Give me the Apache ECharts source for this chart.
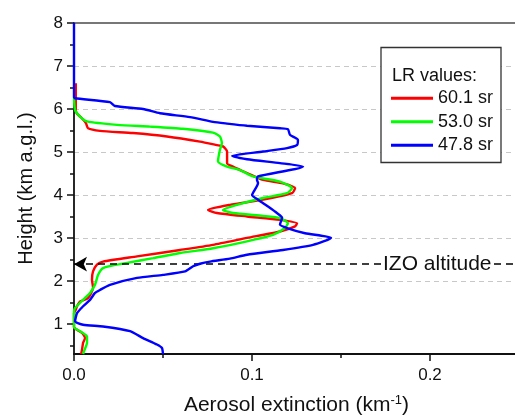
<!DOCTYPE html>
<html>
<head>
<meta charset="utf-8">
<script src="https://cdn.jsdelivr.net/npm/echarts@6/dist/echarts.min.js"></script>
<style>
html,body{margin:0;padding:0;background:#fff;}
#chart{width:515px;height:417px;}
</style>
</head>
<body>
<div id="chart"></div>
<script>
// ---- data (extinction in km^-1, height in km a.g.l.) ----
const seriesNames = ['60.1 sr', '53.0 sr', '47.8 sr'];
const seriesColors = ['#ff0000', '#00ff00', '#0000ff'];

const redHeight = [6.6, 5.98, 5.90, 5.79, 5.67, 5.55, 5.49, 5.44, 5.36, 5.24, 5.16, 5.13, 5.01, 4.74, 4.66, 4.51, 4.35, 4.27, 4.16, 4.04, 3.89, 3.77, 3.65, 3.58, 3.50, 3.42, 3.34, 3.27, 3.15, 3.0, 2.84, 2.72, 2.57, 2.45, 2.38, 2.22, 2.03, 1.84, 1.60, 1.52, 1.41, 1.33, 1.25, 0.92, 0.88, 0.79, 0.67, 0.56, 0.40, 0.30];
const redExt = [0.001, 0.001, 0.0015, 0.0043, 0.0067, 0.0079, 0.0146, 0.0331, 0.0522, 0.0708, 0.0803, 0.0837, 0.086, 0.086, 0.0893, 0.0972, 0.1062, 0.1174, 0.1242, 0.1225, 0.1062, 0.0876, 0.0753, 0.0803, 0.0972, 0.1157, 0.1253, 0.1242, 0.1157, 0.0972, 0.0781, 0.0596, 0.0354, 0.0163, 0.0129, 0.0107, 0.0101, 0.0107, 0.0079, 0.0034, 0.0017, 0.001, 0.0, 0.0, 0.001, 0.0045, 0.0062, 0.0051, 0.0045, 0.004];

const greenHeight = [6.28, 5.98, 5.82, 5.71, 5.63, 5.59, 5.54, 5.45, 5.36, 5.20, 5.05, 4.78, 4.66, 4.58, 4.43, 4.31, 4.16, 4.04, 3.93, 3.77, 3.65, 3.58, 3.51, 3.46, 3.34, 3.23, 3.07, 2.92, 2.76, 2.65, 2.53, 2.42, 2.30, 2.14, 1.91, 1.72, 1.56, 1.37, 1.29, 0.92, 0.83, 0.71, 0.56, 0.36, 0.30];
const greenExt = [0.0, 0.0006, 0.0034, 0.0073, 0.0242, 0.0427, 0.0612, 0.0781, 0.082, 0.0831, 0.082, 0.0809, 0.086, 0.0933, 0.1006, 0.1157, 0.1225, 0.1197, 0.1062, 0.0916, 0.0837, 0.0893, 0.1062, 0.1157, 0.1202, 0.1185, 0.1118, 0.0972, 0.0781, 0.0596, 0.0444, 0.0298, 0.0163, 0.0135, 0.0118, 0.009, 0.0051, 0.0006, 0.0, 0.0, 0.0034, 0.0073, 0.0073, 0.0056, 0.0051];

const blueHeight = [8.0, 6.28, 6.25, 6.16, 6.07, 6.0, 5.9, 5.81, 5.70, 5.66, 5.61, 5.55, 5.53, 5.40, 5.28, 5.16, 5.09, 5.01, 4.91, 4.83, 4.74, 4.66, 4.43, 4.35, 4.28, 4.05, 4.0, 3.89, 3.73, 3.58, 3.47, 3.31, 3.23, 3.11, 3.0, 2.84, 2.72, 2.61, 2.52, 2.45, 2.40, 2.34, 2.22, 2.14, 2.07, 1.91, 1.79, 1.72, 1.56, 1.41, 1.25, 1.06, 0.98, 0.94, 0.83, 0.67, 0.52, 0.44, 0.30];
const blueExt = [0.0, 0.0, 0.0006, 0.0202, 0.023, 0.0388, 0.0483, 0.0652, 0.0781, 0.086, 0.0972, 0.1157, 0.1202, 0.1213, 0.1258, 0.1253, 0.1197, 0.1062, 0.0888, 0.0972, 0.1157, 0.1287, 0.1034, 0.1028, 0.1034, 0.1006, 0.1, 0.1034, 0.109, 0.114, 0.1169, 0.1157, 0.1197, 0.1298, 0.1444, 0.1343, 0.1174, 0.0972, 0.0876, 0.0764, 0.0708, 0.0669, 0.0624, 0.05, 0.0354, 0.0202, 0.0146, 0.0118, 0.009, 0.0051, 0.0017, 0.0006, 0.0051, 0.0163, 0.0315, 0.0388, 0.0466, 0.0494, 0.05];

const izoAltitude = 2.39;
const xMajorTicks = [0, 0.1, 0.2];
const xMinorTicks = [0.05, 0.15];
const yMajorTicks = [1, 2, 3, 4, 5, 6, 7, 8];
const yMinorTicks = [0.5, 1.5, 2.5, 3.5, 4.5, 5.5, 6.5, 7.5];
const xRange = [0, 0.25];
const yRange = [0.3, 8];

// ---- chart ----
function pairs(xs, ys) { return xs.map((x, i) => [x, ys[i]]); }
const allExt = [redExt, greenExt, blueExt];
const allHeight = [redHeight, greenHeight, blueHeight];

const FONT = 'Liberation Sans, Arial, sans-serif';
const chart = echarts.init(document.getElementById('chart'), null, {renderer: 'canvas'});

const series = [{
  name: 'frameTop',
  type: 'line',
  data: pairs(xRange, [yRange[1], yRange[1]]),
  showSymbol: false,
  symbol: 'none',
  silent: true,
  clip: false,
  lineStyle: {color: '#4a4a4a', width: 1.6, type: 'solid'},
  z: 2
}];

seriesNames.forEach((name, i) => series.push({
  name: name,
  type: 'line',
  xAxisIndex: 0,
  yAxisIndex: 0,
  data: pairs(allExt[i], allHeight[i]),
  showSymbol: false,
  symbol: 'none',
  smooth: 0.2,
  clip: false,
  lineStyle: {color: seriesColors[i], width: 2.4},
  itemStyle: {color: seriesColors[i]},
  z: 3 + i
}));

series.push({
  name: 'IZO',
  type: 'line',
  xAxisIndex: 0,
  yAxisIndex: 0,
  data: [],
  silent: true,
  markLine: {
    silent: true,
    symbol: ['arrow', 'none'],
    symbolSize: [11, 13],
    label: {show: false},
    lineStyle: {color: '#000', type: [7, 5], width: 1.6},
    data: [{yAxis: izoAltitude}]
  }
});

const option = {
  animation: false,
  backgroundColor: '#fff',
  grid: {left: 74, top: 23, width: 445, height: 331, outerBoundsMode: 'none', containLabel: false, show: false},
  xAxis: [{
    type: 'value', min: xRange[0], max: xRange[1], interval: 0.1, position: 'bottom',
    name: 'Aerosol extinction (km{sup|-1})',
    nameLocation: 'middle', nameGap: 40,
    nameTextStyle: {fontFamily: FONT, fontSize: 21, color: '#111', rich: {sup: {fontSize: 13, fontFamily: FONT, color: '#111', verticalAlign: 'top', padding: [0, 0, 10, 0]}}},
    axisLine: {show: true, lineStyle: {color: '#111', width: 1.8}},
    axisTick: {show: true, length: 7, inside: false, customValues: xMajorTicks, lineStyle: {color: '#111', width: 1.5}},
    axisLabel: {customValues: xMajorTicks, margin: 13, fontFamily: FONT, fontSize: 17, color: '#111', formatter: v => v.toFixed(1)},
    splitLine: {show: false}
  }, {
    type: 'value', min: xRange[0], max: xRange[1], position: 'bottom', gridIndex: 0,
    axisLine: {show: false},
    axisTick: {show: true, length: 4, customValues: xMinorTicks, lineStyle: {color: '#111', width: 1.5}},
    axisLabel: {show: false},
    splitLine: {show: false}
  }],
  yAxis: [{
    type: 'value', min: yRange[0], max: yRange[1], interval: 1, position: 'left',
    name: 'Height (km a.g.l.)',
    nameLocation: 'middle', nameGap: 38, nameRotate: 90,
    nameTextStyle: {fontFamily: FONT, fontSize: 20, color: '#111'},
    axisLine: {show: true, lineStyle: {color: '#111', width: 1.8}},
    axisTick: {show: true, length: 7, customValues: yMajorTicks, lineStyle: {color: '#111', width: 1.5}},
    axisLabel: {customValues: yMajorTicks, margin: 11, fontFamily: FONT, fontSize: 17, color: '#111'},
    splitLine: {show: true, showMinLine: false, showMaxLine: false, lineStyle: {color: '#c8c8c8', type: [5, 4], width: 1.2}}
  }, {
    type: 'value', min: yRange[0], max: yRange[1], position: 'left', gridIndex: 0,
    axisLine: {show: false},
    axisTick: {show: true, length: 4, customValues: yMinorTicks, lineStyle: {color: '#111', width: 1.5}},
    axisLabel: {show: false},
    splitLine: {show: false}
  }],
  legend: {
    data: seriesNames,
    orient: 'vertical',
    left: 391, top: 88,
    icon: 'rect',
    itemWidth: 42, itemHeight: 3,
    itemGap: 3,
    padding: 0,
    textStyle: {fontFamily: FONT, fontSize: 18, color: '#111', lineHeight: 20.5, padding: [0, 0, 0, 0]},
    z: 10
  },
  graphic: [
    {type: 'rect', z: 5, shape: {x: 381, y: 47.5, width: 120, height: 115}, style: {fill: '#fff', stroke: '#333', lineWidth: 1.3}},
    {type: 'text', z: 6, x: 392, y: 76, style: {text: 'LR values:', font: '18px ' + FONT, fill: '#111', verticalAlign: 'middle'}},
    {type: 'text', z: 6, x: 382, y: 264, style: {text: 'IZO altitude', font: '21px ' + FONT, fill: '#111', verticalAlign: 'middle', backgroundColor: '#fff', padding: [0, 1, 0, 1]}}
  ],
  series: series
};
chart.setOption(option);
</script>
</body>
</html>
